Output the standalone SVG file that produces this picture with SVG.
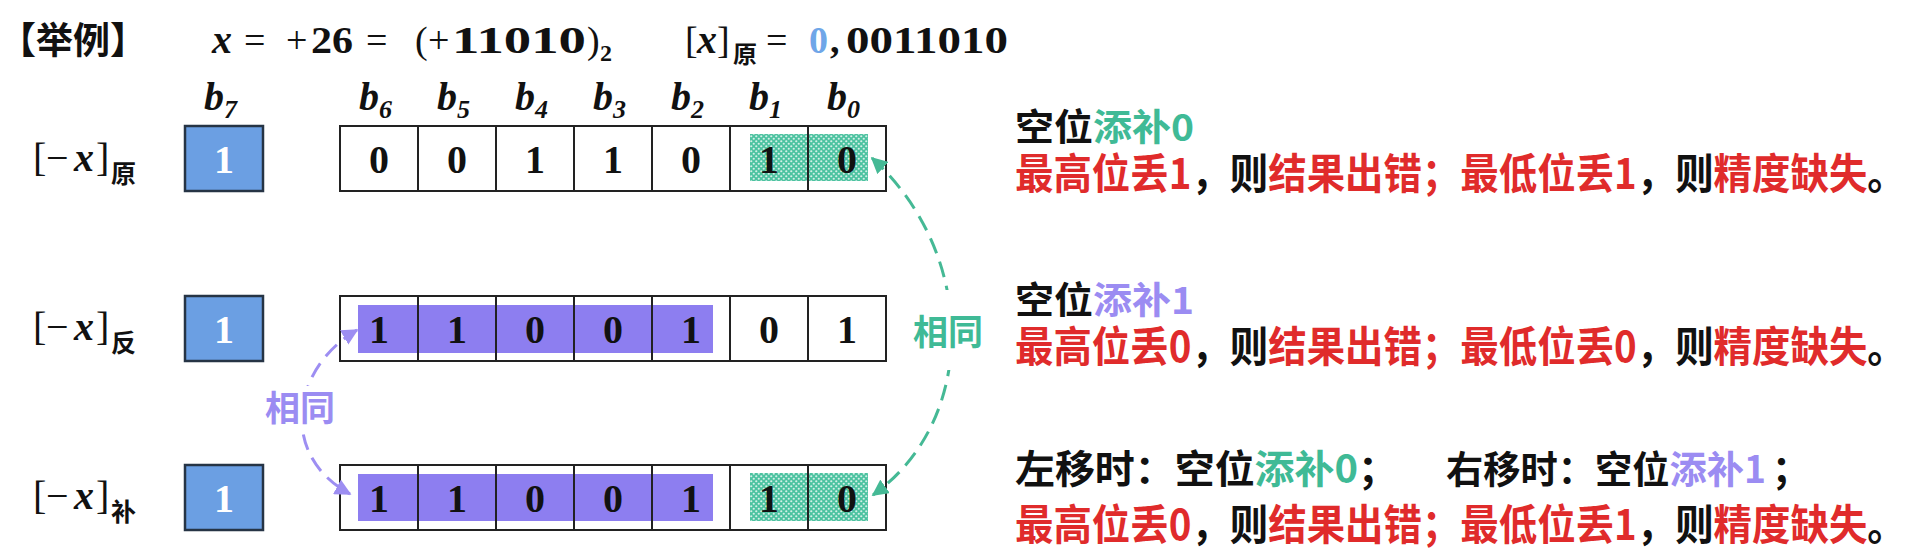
<svg xmlns="http://www.w3.org/2000/svg" width="1930" height="556" viewBox="0 0 1930 556">
<style>
.cjk{font-family:"Noto Sans CJK SC","Noto Sans",sans-serif;font-weight:700}
.m{font-family:"Liberation Serif","DejaVu Serif",serif;font-size:38px;fill:#111}
.mb{font-family:"Liberation Serif","DejaVu Serif",serif;font-size:38px;font-weight:700;fill:#111}
.mi{font-family:"Liberation Serif","DejaVu Serif",serif;font-style:italic;font-weight:700;fill:#111}
.cell{fill:#fff;stroke:#222;stroke-width:2}
.bit{font-family:"Liberation Serif","DejaVu Serif",serif;font-weight:700;font-size:40px;text-anchor:middle;fill:#111}
.wbit{fill:#fff}
.sign{fill:#6b9fe3;stroke:#263445;stroke-width:2.5}
.purp{fill:#8d7ef0}
.hatch{fill:url(#dots)}
.div{stroke:#222;stroke-width:2}
.red{fill:#e02b2b}
.grn{fill:#3fba96}
.vio{fill:#9b8cf2}
.blk{fill:#111}
.conn{fill:none;stroke-width:3;stroke-dasharray:16 9}
</style>
<defs>
<pattern id="dots" width="5" height="5" patternUnits="userSpaceOnUse">
<rect width="5" height="5" fill="#4cc2a0"/>
<circle cx="1.25" cy="1.25" r="1.1" fill="#ffffff" opacity="0.75"/>
<circle cx="3.75" cy="3.75" r="1.1" fill="#ffffff" opacity="0.75"/>
</pattern>
<marker id="ag" viewBox="0 0 10 10" refX="9" refY="5" markerWidth="5.5" markerHeight="5.5" orient="auto-start-reverse" markerUnits="strokeWidth">
<path d="M0,0 L10,5 L0,10 z" fill="#45b995"/>
</marker>
<marker id="ap" viewBox="0 0 10 10" refX="9" refY="5" markerWidth="5.5" markerHeight="5.5" orient="auto-start-reverse" markerUnits="strokeWidth">
<path d="M0,0 L10,5 L0,10 z" fill="#9d8ef2"/>
</marker>
</defs>
<rect width="1930" height="556" fill="#fff"/>

<g id="title">
<text class="cjk" x="-1" y="54" font-size="37" fill="#111">【举例】</text>
<text class="mi" x="212" y="53" font-size="40">x</text>
<text class="m" x="244" y="53">=</text>
<text class="m" x="286" y="53">+</text>
<text class="mb" x="311" y="53" textLength="42" lengthAdjust="spacingAndGlyphs">26</text>
<text class="m" x="366" y="53">=</text>
<text class="m" x="415" y="53">(</text>
<text class="m" x="428" y="53">+</text>
<text class="mb" x="452" y="53" textLength="134" lengthAdjust="spacingAndGlyphs">11010</text>
<text class="m" x="587" y="53">)</text>
<text class="mb" x="600" y="61" style="font-size:24px">2</text>
<text class="m" x="685" y="53">[</text>
<text class="mi" x="697" y="53" font-size="40">x</text>
<text class="m" x="717" y="53">]</text>
<text class="cjk" x="733" y="63" font-size="24" fill="#111">原</text>
<text class="m" x="766" y="53">=</text>
<text class="mb" x="809" y="53" style="fill:#6fa6e8">0</text>
<text class="mb" x="830" y="53">,</text>
<text class="mb" x="846" y="53" textLength="162" lengthAdjust="spacingAndGlyphs">0011010</text>
</g>

<g id="bit-labels" class="mi">
<text x="204" y="110" font-size="40">b<tspan font-size="26" dy="8">7</tspan></text>
<text x="359" y="110" font-size="40">b<tspan font-size="26" dy="8">6</tspan></text>
<text x="437" y="110" font-size="40">b<tspan font-size="26" dy="8">5</tspan></text>
<text x="515" y="110" font-size="40">b<tspan font-size="26" dy="8">4</tspan></text>
<text x="593" y="110" font-size="40">b<tspan font-size="26" dy="8">3</tspan></text>
<text x="671" y="110" font-size="40">b<tspan font-size="26" dy="8">2</tspan></text>
<text x="749" y="110" font-size="40">b<tspan font-size="26" dy="8">1</tspan></text>
<text x="827" y="110" font-size="40">b<tspan font-size="26" dy="8">0</tspan></text>
</g>

<g id="row-orig">
<text class="m" x="33" y="171" style="font-size:40px">[</text>
<text class="m" x="46" y="171" style="font-size:40px">−</text>
<text class="mi" x="74" y="171" font-size="40">x</text>
<text class="m" x="96" y="171" style="font-size:40px">]</text>
<text class="cjk" x="111" y="183" font-size="25" fill="#111">原</text>
<rect class="sign" x="185" y="126" width="78" height="65"/>
<text class="bit wbit" x="224" y="173">1</text>
<rect class="cell" x="340" y="126" width="546" height="65"/>
<rect class="hatch" x="750" y="134" width="118" height="47"/>
<path class="div" d="M418 126V191M496 126V191M574 126V191M652 126V191M730 126V191M808 126V191"/>
<text class="bit" x="379" y="173">0</text>
<text class="bit" x="457" y="173">0</text>
<text class="bit" x="535" y="173">1</text>
<text class="bit" x="613" y="173">1</text>
<text class="bit" x="691" y="173">0</text>
<text class="bit" x="769" y="173">1</text>
<text class="bit" x="847" y="173">0</text>
</g>

<g id="row-inv">
<text class="m" x="33" y="340" style="font-size:40px">[</text>
<text class="m" x="46" y="340" style="font-size:40px">−</text>
<text class="mi" x="74" y="340" font-size="40">x</text>
<text class="m" x="96" y="340" style="font-size:40px">]</text>
<text class="cjk" x="111" y="352" font-size="25" fill="#111">反</text>
<rect class="sign" x="185" y="296" width="78" height="65"/>
<text class="bit wbit" x="224" y="343">1</text>
<rect class="cell" x="340" y="296" width="546" height="65"/>
<rect class="purp" x="358" y="305" width="355" height="48"/>
<path class="div" d="M418 296V361M496 296V361M574 296V361M652 296V361M730 296V361M808 296V361"/>
<text class="bit" x="379" y="343">1</text>
<text class="bit" x="457" y="343">1</text>
<text class="bit" x="535" y="343">0</text>
<text class="bit" x="613" y="343">0</text>
<text class="bit" x="691" y="343">1</text>
<text class="bit" x="769" y="343">0</text>
<text class="bit" x="847" y="343">1</text>
</g>

<g id="row-comp">
<text class="m" x="33" y="509" style="font-size:40px">[</text>
<text class="m" x="46" y="509" style="font-size:40px">−</text>
<text class="mi" x="74" y="509" font-size="40">x</text>
<text class="m" x="96" y="509" style="font-size:40px">]</text>
<text class="cjk" x="111" y="521" font-size="25" fill="#111">补</text>
<rect class="sign" x="185" y="465" width="78" height="65"/>
<text class="bit wbit" x="224" y="512">1</text>
<rect class="cell" x="340" y="465" width="546" height="65"/>
<rect class="purp" x="358" y="474" width="355" height="47"/>
<rect class="hatch" x="750" y="473" width="118" height="48"/>
<path class="div" d="M418 465V530M496 465V530M574 465V530M652 465V530M730 465V530M808 465V530"/>
<text class="bit" x="379" y="512">1</text>
<text class="bit" x="457" y="512">1</text>
<text class="bit" x="535" y="512">0</text>
<text class="bit" x="613" y="512">0</text>
<text class="bit" x="691" y="512">1</text>
<text class="bit" x="769" y="512">1</text>
<text class="bit" x="847" y="512">0</text>
</g>

<g id="connectors">
<path class="conn" d="M872 158 C978 255 978 420 873 495" stroke="#45b995" marker-start="url(#ag)" marker-end="url(#ag)"/>
<path class="conn" d="M357 330 C292 368 278 455 350 494" stroke="#9d8ef2" marker-start="url(#ap)" marker-end="url(#ap)"/>
<rect x="910" y="290" width="78" height="80" fill="#fff"/>
<text class="cjk grn" x="948" y="345" font-size="35" text-anchor="middle">相同</text>
<rect x="262" y="386" width="76" height="46" fill="#fff"/>
<text class="cjk vio" x="300" y="421" font-size="35" text-anchor="middle">相同</text>
</g>

<g id="notes" class="cjk">
<text x="1015" y="141" font-size="37" textLength="179" lengthAdjust="spacingAndGlyphs"><tspan class="blk">空位</tspan><tspan class="grn">添补0</tspan></text>
<g transform="translate(1015,189) scale(0.915,1)"><text x="0" y="0" font-size="42"><tspan class="red">最高位丢1</tspan><tspan class="blk">，则</tspan><tspan class="red">结果出错；最低位丢1</tspan><tspan class="blk">，则</tspan><tspan class="red">精度缺失</tspan><tspan class="blk">。</tspan></text></g>
<text x="1015" y="314" font-size="37" textLength="179" lengthAdjust="spacingAndGlyphs"><tspan class="blk">空位</tspan><tspan class="vio">添补1</tspan></text>
<g transform="translate(1015,362) scale(0.915,1)"><text x="0" y="0" font-size="42"><tspan class="red">最高位丢0</tspan><tspan class="blk">，则</tspan><tspan class="red">结果出错；最低位丢0</tspan><tspan class="blk">，则</tspan><tspan class="red">精度缺失</tspan><tspan class="blk">。</tspan></text></g>
<text x="1015" y="483" font-size="39" textLength="383" lengthAdjust="spacingAndGlyphs"><tspan class="blk">左移时：空位</tspan><tspan class="grn">添补0</tspan><tspan class="blk">；</tspan></text>
<text x="1446" y="483" font-size="37.5" textLength="320" lengthAdjust="spacingAndGlyphs"><tspan class="blk">右移时：空位</tspan><tspan class="vio">添补1</tspan></text>
<text class="blk" x="1772" y="483" font-size="38">；</text>
<g transform="translate(1015,540) scale(0.915,1)"><text x="0" y="0" font-size="42"><tspan class="red">最高位丢0</tspan><tspan class="blk">，则</tspan><tspan class="red">结果出错；最低位丢1</tspan><tspan class="blk">，则</tspan><tspan class="red">精度缺失</tspan><tspan class="blk">。</tspan></text></g>
</g>
</svg>
